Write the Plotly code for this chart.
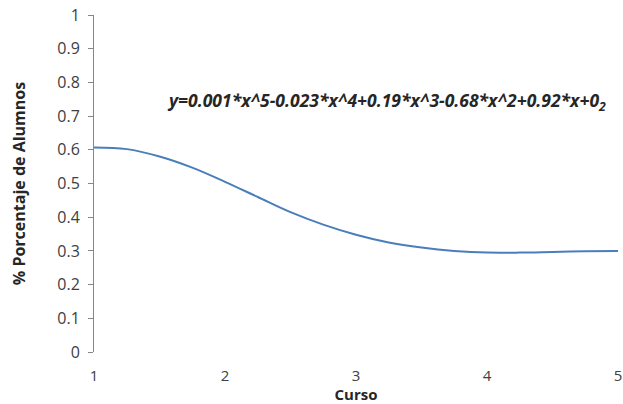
import plotly.graph_objects as go

curso = [1, 1.25, 1.5, 1.75, 2, 2.25, 2.5, 2.75, 3, 3.25, 3.5, 3.75, 4, 4.25, 4.5, 4.75, 5]
porcentaje = [0.607, 0.602, 0.580, 0.547, 0.505, 0.460, 0.415, 0.378, 0.348, 0.325, 0.310, 0.300,
              0.295, 0.295, 0.297, 0.299, 0.300]
y_ticks = [0, 0.1, 0.2, 0.3, 0.4, 0.5, 0.6, 0.7, 0.8, 0.9, 1]
x_ticks = [1, 2, 3, 4, 5]
equation = "y=0.001*x^5-0.023*x^4+0.19*x^3-0.68*x^2+0.92*x+0<sub>2</sub>"

fig = go.Figure()
fig.add_trace(go.Scatter(x=curso, y=porcentaje, mode="lines", line_shape="spline",
                         line=dict(color="#4a7ebb", width=2), showlegend=False))

font_family = "Open Sans, Liberation Sans, sans-serif"
fig.update_layout(
    width=623, height=404,
    margin=dict(l=94, r=5, t=15, b=52),
    paper_bgcolor="white", plot_bgcolor="white",
    font=dict(family=font_family, size=14, color="#404040"),
    xaxis=dict(range=[1, 5], tickvals=x_ticks, ticktext=[str(v) for v in x_ticks],
               showgrid=False, zeroline=False, showline=False, automargin=False,
               ticklabeloverflow="allow",
               ticks="outside", ticklen=10, tickcolor="rgba(0,0,0,0)",
               tickfont=dict(size=15, color="#404040"),
               title=dict(text="<b>Curso</b>", font=dict(size=15, color="#262626"), standoff=0)),
    yaxis=dict(range=[0, 1], tickvals=y_ticks, ticktext=[("%g" % v) for v in y_ticks],
               showgrid=False, zeroline=False, showline=True, linecolor="#868686", linewidth=1,
               automargin=False, ticklabeloverflow="allow", ticklabelstandoff=5,
               ticks="outside", ticklen=5, tickcolor="#868686",
               tickfont=dict(size=16, color="#404040"),
               title=dict(text="<b>% Porcentaje de Alumnos</b>", font=dict(size=16, color="#262626"),
                          standoff=27)),
)

fig.add_annotation(x=(386 - 94) / (618 - 94), y=(352 - 101) / (352 - 15), xref="paper", yref="paper",
                   yanchor="middle",
                   text="<b><i>" + equation + "</i></b>",
                   showarrow=False, font=dict(size=17.5, color="#262626"))

fig.write_html("out.html", config={"displayModeBar": False},
               post_script="document.body.style.margin='0';")
